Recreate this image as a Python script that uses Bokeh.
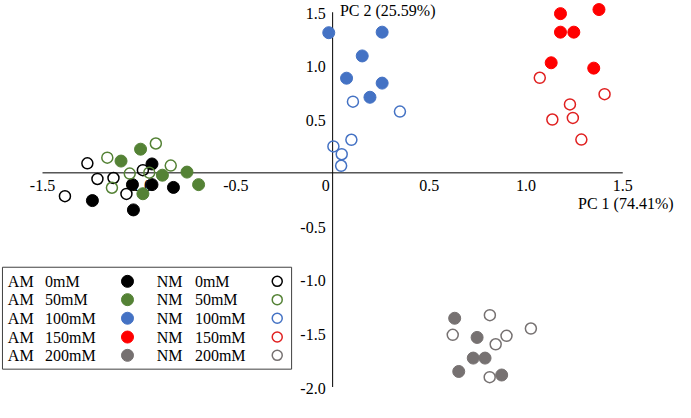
from bokeh.plotting import figure
from bokeh.embed import file_html
from bokeh.resources import INLINE
from bokeh.core.properties import value

# ---------------- data (PC1, PC2 scores) ----------------
groups = ["0mM", "50mM", "100mM", "150mM", "200mM"]
fill_colors = ["#000000", "#548235", "#4472C4", "#FF0000", "#767171"]
ring_colors = ["#000000", "#548235", "#4472C4", "#E02020", "#767171"]

am0_pc1 = [-0.934, -1.035, -0.934, -0.823, -1.242, -1.030]
am0_pc2 = [0.083, -0.110, -0.110, -0.136, -0.259, -0.346]
nm0_pc1 = [-1.268, -1.216, -1.133, -0.981, -1.066, -1.384]
nm0_pc2 = [0.089, -0.057, -0.048, 0.025, -0.197, -0.218]

am50_pc1 = [-0.993, -1.094, -0.880, -0.753, -0.693, -0.981]
am50_pc2 = [0.221, 0.110, -0.022, 0.007, -0.110, -0.195]
nm50_pc1 = [-0.914, -1.165, -0.837, -1.049, -1.141, -0.948]
nm50_pc2 = [0.274, 0.142, 0.068, -0.007, -0.139, 0.002]

am100_pc1 = [-0.020, 0.256, 0.153, 0.072, 0.256, 0.193]
am100_pc2 = [1.309, 1.314, 1.092, 0.884, 0.838, 0.706]
nm100_pc1 = [0.105, 0.348, 0.097, 0.004, 0.047, 0.044]
nm100_pc2 = [0.665, 0.572, 0.309, 0.247, 0.174, 0.066]

am150_pc1 = [1.178, 1.377, 1.178, 1.247, 1.130, 1.350]
am150_pc2 = [1.487, 1.525, 1.314, 1.314, 1.028, 0.978]
nm150_pc1 = [1.071, 1.406, 1.227, 1.136, 1.242, 1.286]
nm150_pc2 = [0.888, 0.735, 0.639, 0.498, 0.513, 0.311]

am200_pc1 = [0.631, 0.747, 0.727, 0.788, 0.652, 0.874]
am200_pc2 = [-1.358, -1.537, -1.730, -1.730, -1.855, -1.888]
nm200_pc1 = [0.813, 0.621, 0.899, 0.843, 1.025, 0.812]
nm200_pc2 = [-1.329, -1.513, -1.522, -1.601, -1.454, -1.908]

x_ticks = [-1.5, -1.0, -0.5, 0.5, 1.0, 1.5]
x_tick_labels = ["-1.5", "-1.0", "-0.5", "0.5", "1.0", "1.5"]
y_ticks = [1.5, 1.0, 0.5, -0.5, -1.0, -1.5, -2.0]
y_tick_labels = ["1.5", "1.0", "0.5", "-0.5", "-1.0", "-1.5", "-2.0"]
x_title = "PC 1 (74.41%)"
y_title = "PC 2 (25.59%)"

am_x = [am0_pc1, am50_pc1, am100_pc1, am150_pc1, am200_pc1]
am_y = [am0_pc2, am50_pc2, am100_pc2, am150_pc2, am200_pc2]
nm_x = [nm0_pc1, nm50_pc1, nm100_pc1, nm150_pc1, nm200_pc1]
nm_y = [nm0_pc2, nm50_pc2, nm100_pc2, nm150_pc2, nm200_pc2]

# ---------------- figure ----------------
W, H = 675, 402
REF_W, REF_H = 691, 428          # layout designed on a 691-wide canvas
ORIGIN_X, ORIGIN_Y = 340.0, 183.5
SCALE_X, SCALE_Y = 198.0, 114.0


def rx(px):  # layout pixel -> data x
    return (px - ORIGIN_X) / SCALE_X


def ry(py):  # layout pixel -> data y
    return (ORIGIN_Y - py) / SCALE_Y


p = figure(width=W, height=H, x_range=(rx(0), rx(REF_W)), y_range=(ry(REF_H), ry(0)),
           output_backend="svg", toolbar_location=None,
           x_axis_location=None, y_axis_location=None,
           min_border=0, outline_line_color=None)
p.grid.visible = False
p.background_fill_color = "white"
p.border_fill_color = "white"

FONT = value("Liberation Serif")
FS = "16px"

# axes crossing at origin
p.segment(x0=[x_ticks[0]], y0=[0], x1=[x_ticks[-1]], y1=[0], line_color="#000000", line_width=1)
p.segment(x0=[0], y0=[y_ticks[-1]], x1=[0], y1=[y_ticks[0]], line_color="#000000", line_width=1)

# tick labels
p.text(x=x_ticks, y=[0] * len(x_ticks), text=x_tick_labels, text_font=FONT,
       text_font_size=FS, text_align="center", text_baseline="middle",
       y_offset=13, text_color="#000000")
p.text(x=[0], y=[0], text=["0"], text_font=FONT, text_font_size=FS,
       text_align="center", text_baseline="middle", x_offset=-7, y_offset=13,
       text_color="#000000")
p.text(x=[0] * len(y_ticks), y=y_ticks, text=y_tick_labels, text_font=FONT,
       text_font_size=FS, text_align="right", text_baseline="middle",
       x_offset=-7, y_offset=1, text_color="#000000")

# axis titles
p.text(x=[rx(347.5)], y=[ry(11)], text=[y_title], text_font=FONT, text_font_size=FS,
       text_align="left", text_baseline="middle", text_color="#000000")
p.text(x=[rx(689)], y=[ry(216.5)], text=[x_title], text_font=FONT, text_font_size=FS,
       text_align="right", text_baseline="middle", text_color="#000000")

# data points
for i in range(len(groups)):
    p.scatter(x=am_x[i], y=am_y[i], marker="circle", size=12,
              fill_color=fill_colors[i], line_color=fill_colors[i], line_width=1)
for i in range(len(groups)):
    p.scatter(x=nm_x[i], y=nm_y[i], marker="circle", size=11,
              fill_alpha=0, line_color=ring_colors[i], line_width=1.5)

# legend box
p.quad(left=[rx(2)], right=[rx(298)], top=[ry(284)], bottom=[ry(392.5)],
       fill_color="white", line_color="#404040", line_width=1)
row_y = [ry(v) for v in [299, 318.5, 338.3, 358.3, 377.8]]
n = len(groups)
p.text(x=[rx(7.5)] * n, y=row_y, text=["AM"] * n, text_font=FONT, text_font_size=FS,
       text_align="left", text_baseline="middle", text_color="#000000")
p.text(x=[rx(45.5)] * n, y=row_y, text=groups, text_font=FONT, text_font_size=FS,
       text_align="left", text_baseline="middle", text_color="#000000")
p.scatter(x=[rx(130)] * n, y=row_y, marker="circle", size=12,
          fill_color=fill_colors, line_color=fill_colors)
p.text(x=[rx(160)] * n, y=row_y, text=["NM"] * n, text_font=FONT, text_font_size=FS,
       text_align="left", text_baseline="middle", text_color="#000000")
p.text(x=[rx(199)] * n, y=row_y, text=groups, text_font=FONT, text_font_size=FS,
       text_align="left", text_baseline="middle", text_color="#000000")
p.scatter(x=[rx(283.3)] * n, y=row_y, marker="circle", size=10,
          fill_alpha=0, line_color=ring_colors, line_width=1.5)

open("out.html", "w").write(file_html(p, INLINE))
